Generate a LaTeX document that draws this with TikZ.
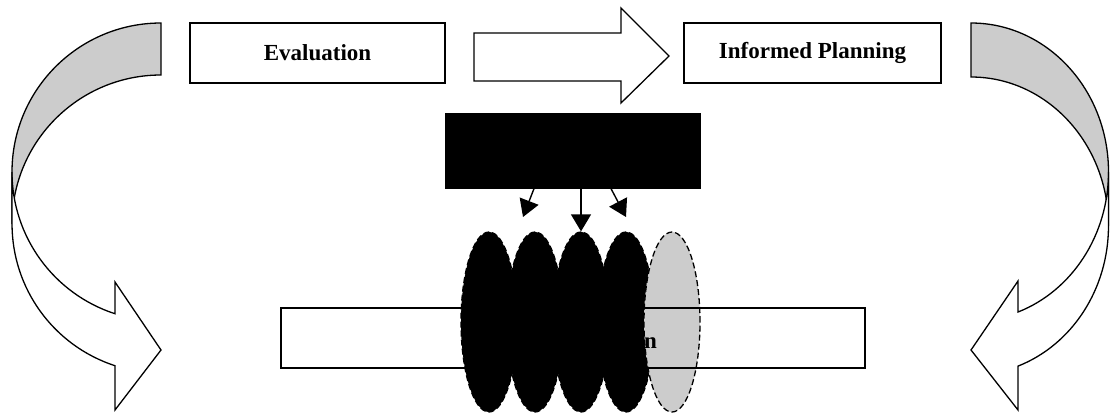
\documentclass[tikz,border=0pt]{standalone}
\usepackage{fontspec}
\setmainfont{Liberation Serif}
\usetikzlibrary{arrows.meta,shapes.geometric,calc}
\definecolor{shade}{RGB}{204,204,204}
\tikzset{
  lbox/.style={draw, rectangle, inner sep=0pt, line width=1.4pt,
    font=\bfseries\fontsize{23}{27}\selectfont},
  band/.style={draw, line width=1.3pt, line join=miter},
  blob/.style={ellipse, draw, dash pattern=on 6pt off 3pt, line width=1.3pt,
    minimum width=56pt, minimum height=180pt, inner sep=0pt},
  sarrow/.style={draw, line width=1.4pt, -{Triangle[length=17pt,width=20pt]}}
}
\begin{document}
\begin{tikzpicture}[x=1pt,y=-1pt]
\useasboundingbox (0,0) rectangle (1110,413);

% left curved arrow: back (grey) band
\path[band, fill=shade] (12,172) arc[start angle=180, end angle=270, x radius=149, y radius=149]
  -- (161,75) arc[start angle=270, end angle=180, x radius=149, y radius=149] -- cycle;
% left curved arrow: front (white) band with head
\path[band, fill=white] (12,172) arc[start angle=180, end angle=108, x radius=149, y radius=149]
  -- (115,282) -- (161,350) -- (115,410) -- (115,365.7)
  arc[start angle=108, end angle=180, x radius=149, y radius=149] -- cycle;

% right curved arrow: back (grey) band
\path[band, fill=shade] (1108.5,172) arc[start angle=0, end angle=-90, x radius=137.5, y radius=149]
  -- (971,77) arc[start angle=-90, end angle=0, x radius=137.5, y radius=149] -- cycle;
% right curved arrow: front (white) band with head
\path[band, fill=white] (1108.5,172) arc[start angle=0, end angle=70.0, x radius=137.5, y radius=149]
  -- (1018,281) -- (971,350) -- (1018,410) -- (1018,366.1)
  arc[start angle=70.0, end angle=0, x radius=137.5, y radius=149] -- cycle;

% top boxes
\node[lbox, minimum width=255pt, minimum height=60pt] (eval) at (317.5,53) {Evaluation};
\node[lbox, minimum width=257pt, minimum height=60pt] (plan) at (812.5,53) {Informed Planning};

% block arrow between them
\path[band, fill=white] (474,33) -- (621,33) -- (621,8) -- (669,56) -- (621,103) -- (621,81) -- (474,81) -- cycle;

% black box
\node[draw, fill=black, minimum width=254pt, minimum height=74pt, inner sep=0pt, line width=1.2pt] (bb) at (573,151) {};

% ellipses
\node[blob, fill=black] (e1) at (489,322) {};
\node[blob, fill=black] (e2) at (535,322) {};
\node[blob, fill=black] (e3) at (581,322) {};
\node[blob, fill=black] (e4) at (626,322) {};
\node[blob, fill=shade] (e5) at (672,322) {};

% bottom box (unfilled), text drawn in black
\node[lbox, minimum width=584pt, minimum height=60pt] (impl) at (573,338) {};
\node[font=\bfseries\fontsize{23}{27}\selectfont, inner sep=0pt, anchor=base east] (impltext) at (657,348) {Implementation};

% small arrows from black box
\coordinate (t1) at (523,217);
\coordinate (t3) at (626,217);
\draw[sarrow] ([xshift=-39pt]bb.south) -- (t1);
\draw[sarrow] (e3.north |- bb.south) -- (e3.north);
\draw[sarrow] ([xshift=38pt]bb.south) -- (t3);
\end{tikzpicture}
\end{document}
